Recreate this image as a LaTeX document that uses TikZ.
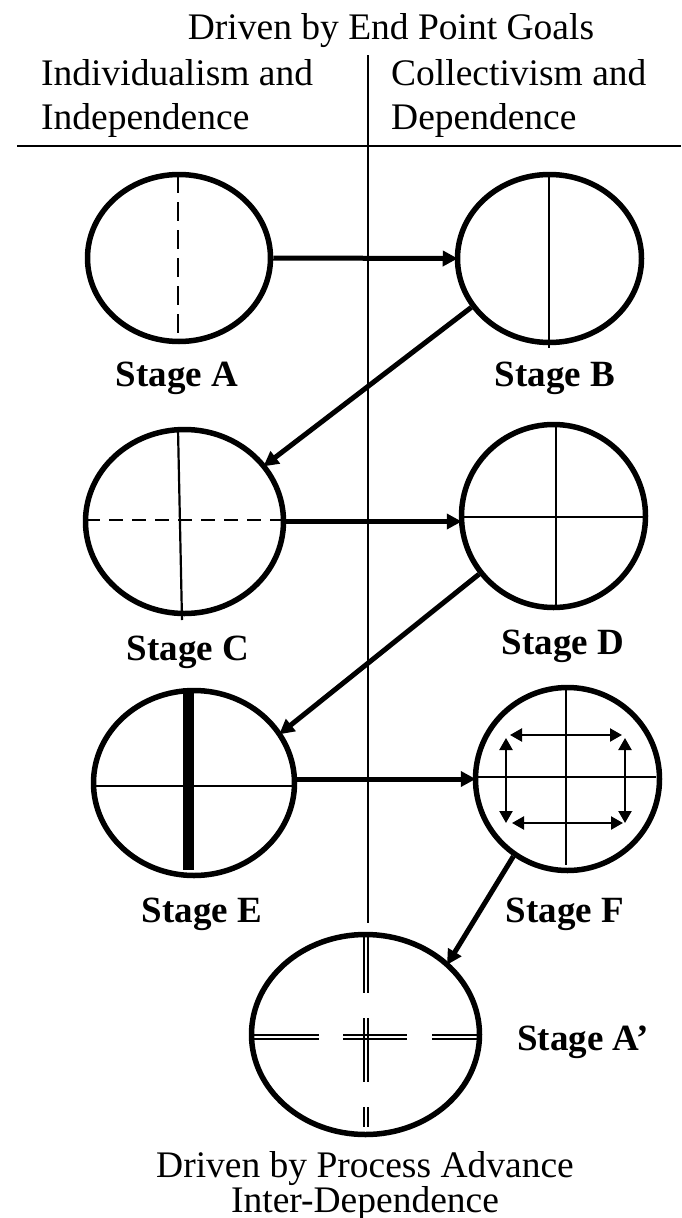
\documentclass[tikz,border=0pt]{standalone}
\usepackage{fontspec}
\setmainfont{Liberation Serif}
\usetikzlibrary{arrows.meta,shapes.geometric}
\begin{document}
\begin{tikzpicture}[x=1pt,y=-1pt,
  stage/.style={draw, ellipse, line width=5.5pt, inner sep=0pt},
  lab/.style={font=\fontsize{37.5}{40}\selectfont, anchor=base, inner sep=0pt},
  slab/.style={font=\fontsize{37}{40}\selectfont\bfseries, anchor=base, inner sep=0pt},
  flow/.style={line width=5pt, -{Triangle[length=15pt,width=15pt]}, shorten >=-3pt},
  thinln/.style={line width=2.2pt},
  twoway/.style={line width=2.2pt, {Triangle[length=12pt,width=13pt]}-{Triangle[length=12pt,width=13pt]}},
  dblln/.style={line width=1.5pt}
]
\useasboundingbox (0,0) rectangle (681,1218);

% header texts
\node[lab] (t) at (391,39) {Driven by End Point Goals};
\node[lab, anchor=base west] (l1) at (41,85) {Individualism and};
\node[lab, anchor=base west] (l2) at (41,129) {Independence};
\node[lab, anchor=base west] (r1) at (391,85) {Collectivism and};
\node[lab, anchor=base west] (r2) at (391,129) {Dependence};

% separators
\coordinate (vt) at (368,55); \coordinate (vb) at (368,923);
\draw[line width=2pt] (vt) -- (vb);
\coordinate (hl) at (17,146); \coordinate (hr) at (681,146);
\draw[line width=2.5pt] (hl) -- (hr);

% stages
\node[stage, minimum width=183pt, minimum height=167pt] (A) at (179,258) {};
\node[stage, minimum width=184pt, minimum height=168pt] (B) at (549.5,258.5) {};
\node[stage, minimum width=198pt, minimum height=184pt] (C) at (184.5,521.5) {};
\node[stage, minimum width=184pt, minimum height=183pt] (D) at (553.5,516) {};
\node[stage, minimum width=201pt, minimum height=185pt] (E) at (194,783) {};
\node[stage, minimum width=184pt, minimum height=183pt] (F) at (567.5,779) {};
\node[stage, minimum width=228pt, minimum height=200pt] (Ap) at (365.5,1034.5) {};

% stage A
\draw[thinln, dash pattern=on 19pt off 9pt] (178,174) -- (178,342);
% stage B
\draw[thinln] (549,172) -- (549,348);
% stage C
\draw[thinln, dash pattern=on 14pt off 9pt] (86,520) -- (284,520);
\draw[thinln] (178,429) -- (182,620);
% stage D
\draw[thinln] (556,422) -- (556,610);
\draw[thinln] (461,517) -- (646,517);
% stage E
\draw[thinln] (93,786) -- (295,786);
\draw[line width=11pt] (188,688) -- (188,870);
% stage F
\draw[thinln] (566,685) -- (566,865);
\draw[thinln] (474,777) -- (656,777);
\draw[twoway] (510,735) -- (622,735);
\draw[twoway] (512,823) -- (623,823);
\draw[twoway] (506,738) -- (506,823);
\draw[twoway] (625,738) -- (625,823);
% stage A'
\foreach \xx in {364,368} {
  \draw[dblln] (\xx,934) -- (\xx,993);
  \draw[dblln] (\xx,1018) -- (\xx,1082);
  \draw[dblln] (\xx,1107) -- (\xx,1127);
}
\foreach \yy in {1035,1039} {
  \draw[dblln] (251,\yy) -- (319,\yy);
  \draw[dblln] (343,\yy) -- (407,\yy);
  \draw[dblln] (432,\yy) -- (480,\yy);
}

% connectors
\draw[flow] (A.east) -- (B.west);
\draw[flow] (B.212) -- (C.35);
\draw[flow] (C.east) -- (C.east -| D.west);
\draw[flow] (D.218) -- (E.30);
\draw[flow] (E.east |- F.west) -- (F.west);
\draw[flow] (F.235) -- (Ap.41);

% labels
\node[slab] (la) at (177,386) {Stage A};
\node[slab] (lb) at (555,386) {Stage B};
\node[slab] (lc) at (188,660) {Stage C};
\node[slab] (ld) at (563,654) {Stage D};
\node[slab] (le) at (202,922) {Stage E};
\node[slab] (lf) at (565,922) {Stage F};
\node[slab, anchor=base west] (la2) at (517,1050) {Stage A’};

% footer
\node[lab] (b1) at (365,1177) {Driven by Process Advance};
\node[lab] (b2) at (365,1212) {Inter-Dependence};
\end{tikzpicture}
\end{document}
